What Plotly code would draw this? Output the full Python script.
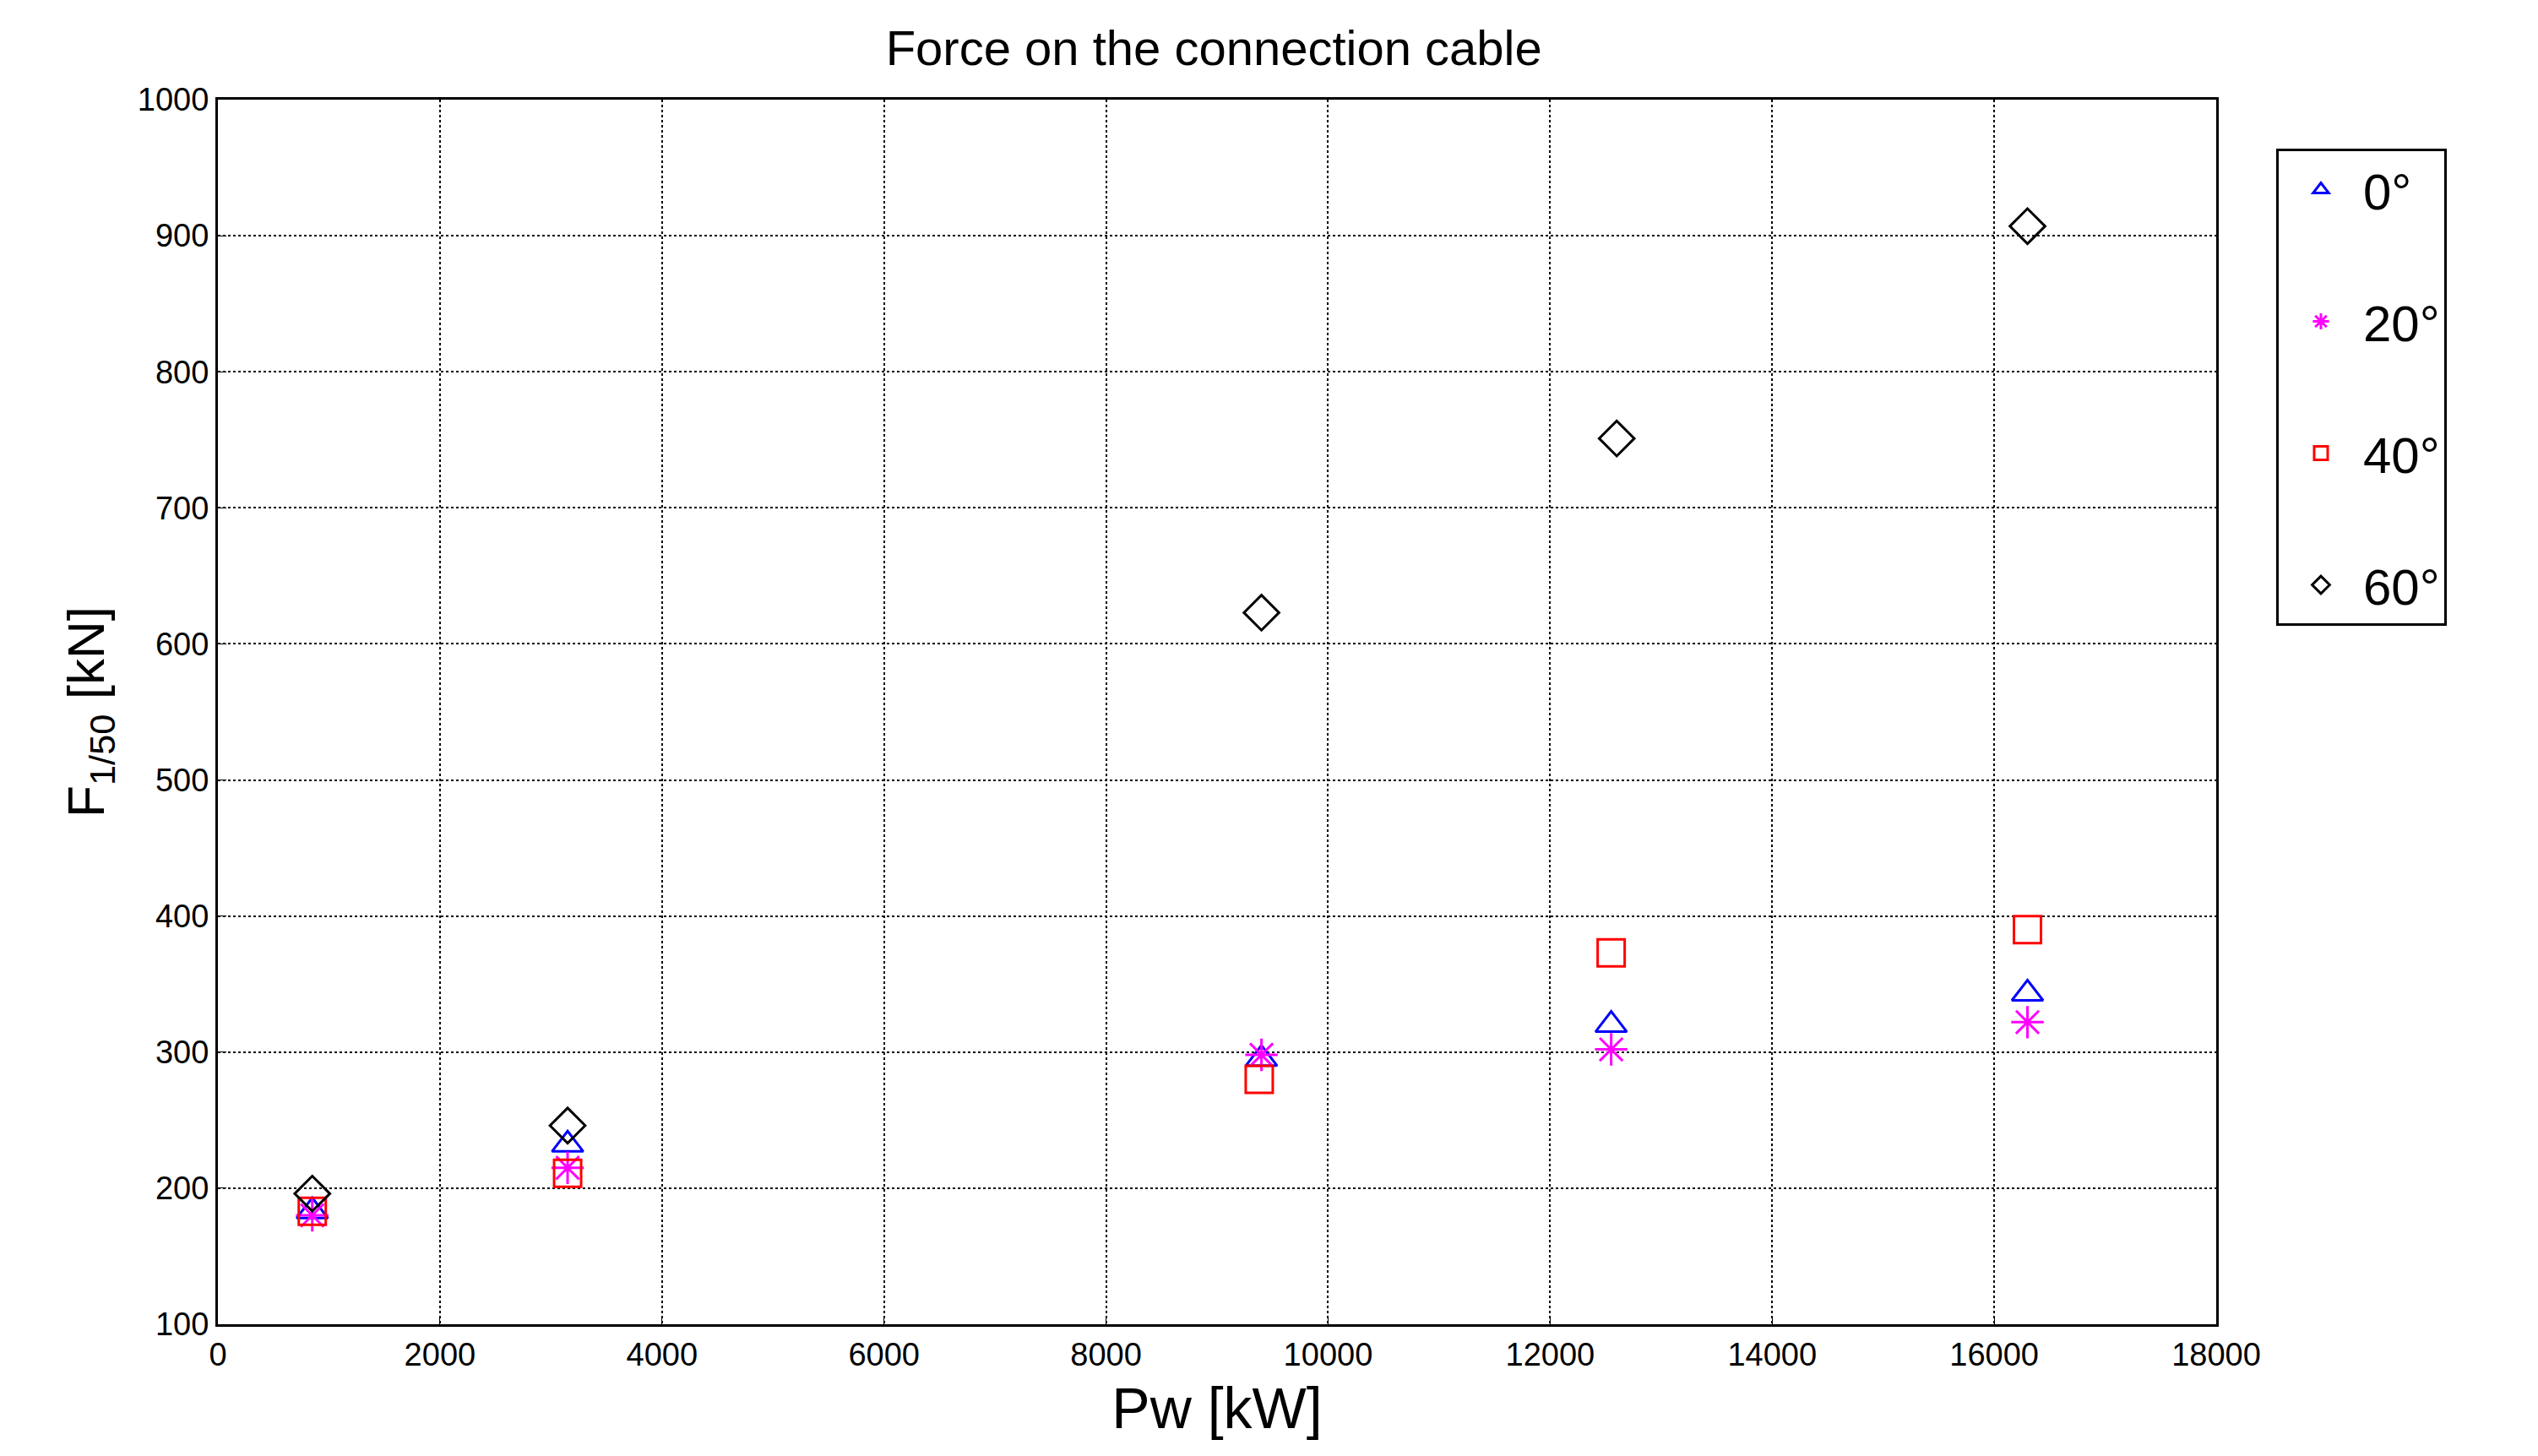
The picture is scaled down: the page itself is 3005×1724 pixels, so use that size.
import plotly.graph_objects as go

labels = ["0°", "20°", "40°", "60°"]
x0 = [850, 3150, 9400, 12550, 16300]
y0 = [183, 232, 295, 320, 343]
x20 = [850, 3150, 9400, 12550, 16300]
y20 = [180, 215, 298, 302, 322]
x40 = [850, 3150, 9380, 12550, 16300]
y40 = [183, 211, 280, 373, 390]
x60 = [850, 3150, 9400, 12600, 16300]
y60 = [196, 246, 623, 751, 907]

series = [(x0, y0, "triangle-up-open", "#0000ff"),
          (x20, y20, "asterisk-open", "#ff00ff"),
          (x40, y40, "square-open", "#ff0000"),
          (x60, y60, "diamond-open", "#000000")]

fig = go.Figure()
for i, (xs, ys, sym, col) in enumerate(series):
    fig.add_trace(go.Scatter(x=xs, y=ys, mode="markers", name=labels[i], legendgroup=str(i),
                             marker=dict(symbol=sym, size=32, color=col, line=dict(width=3, color=col))))

axis_common = dict(showline=True, linecolor="black", linewidth=3, mirror=True,
                   showgrid=True, gridcolor="black", griddash="dot", gridwidth=2,
                   ticks="inside", ticklen=10, tickcolor="black", tickformat="d",
                   tickfont=dict(family="Liberation Sans", size=38, color="black"), zeroline=False)

fig.update_layout(
    width=3005, height=1724, paper_bgcolor="white", plot_bgcolor="white",
    margin=dict(l=250, r=389, t=110, b=164),
    title=dict(text="Force on the connection cable", x=0.4756, xanchor="center", y=0.972, yanchor="middle",
               font=dict(family="Liberation Sans", size=58, color="black")),
    xaxis=dict(range=[0, 18000], dtick=2000, title=dict(text="Pw [kW]", standoff=20,
               font=dict(family="Liberation Sans", size=68, color="black")), **axis_common),
    yaxis=dict(range=[100, 1000], dtick=100, title=dict(text="F<sub>1/50</sub> [kN]", standoff=20,
               font=dict(family="Liberation Sans", size=62, color="black")), **axis_common),
    legend=dict(x=1.03, xanchor="left", y=0.96, yanchor="top", bordercolor="black", borderwidth=3,
                font=dict(family="Liberation Sans", size=60, color="black"), tracegroupgap=75,
                itemwidth=90, entrywidth=200, bgcolor="white"),
)
fig.write_html("out.html")
